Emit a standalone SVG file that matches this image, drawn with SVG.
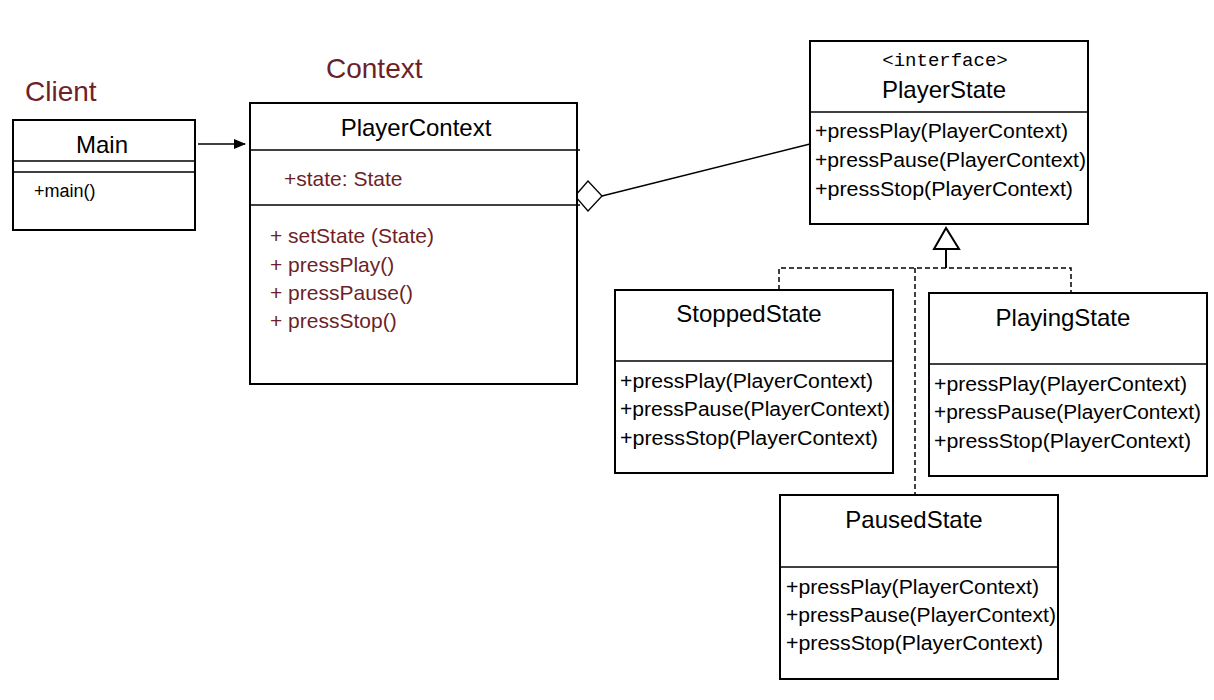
<svg xmlns="http://www.w3.org/2000/svg" width="1214" height="700" viewBox="0 0 1214 700">
<style>
.box{fill:#fff;stroke:#000;stroke-width:2}
.div{stroke:#000;stroke-width:1.3}
.t{font-family:"Liberation Sans",Arial,sans-serif;fill:#000}
.title{font-size:24px;text-anchor:middle}
.m{font-size:20px}
.r{font-size:21px;fill:#6e1f27}
.lbl{font-family:"Liberation Sans",Arial,sans-serif;font-size:28px;fill:#6e1f27}
.dash{fill:none;stroke:#000;stroke-width:1.5;stroke-dasharray:5,3}
</style>
<defs>
<marker id="arr" markerWidth="12" markerHeight="10" refX="11" refY="5" orient="auto" markerUnits="userSpaceOnUse">
<path d="M0,0 L12,5 L0,10 Z" fill="#000"/>
</marker>
</defs>
<rect width="1214" height="700" fill="#fff"/>
<text class="lbl" x="25" y="101">Client</text>
<text class="lbl" x="326" y="78">Context</text>

<g id="connectors">
<line x1="198" y1="144" x2="245" y2="144" stroke="#000" stroke-width="1.3" marker-end="url(#arr)"/>
<line x1="602" y1="196" x2="810" y2="144" stroke="#000" stroke-width="1.3"/>
<polygon points="575,196 588,181 602,196 588,211" fill="#fff" stroke="#000" stroke-width="1.3"/>
<line x1="946" y1="249" x2="946" y2="268" stroke="#000" stroke-width="2"/>
<polygon points="946,228 934,249 959,249" fill="#fff" stroke="#000" stroke-width="2"/>
<polyline class="dash" points="779,290 779,268 1071,268 1071,293"/>
<line class="dash" x1="915" y1="268" x2="915" y2="495" stroke-width="1.2"/>
</g>

<g id="Main">
<rect class="box" x="13" y="120" width="182" height="110"/>
<line class="div" x1="13" y1="161" x2="195" y2="161"/>
<line class="div" x1="13" y1="172" x2="195" y2="172"/>
<text class="t title" x="102" y="153" font-size="25">Main</text>
<text class="t" x="34" y="197" font-size="18">+main()</text>
</g>

<g id="PlayerContext">
<rect class="box" x="250" y="103" width="327" height="281"/>
<line class="div" x1="250" y1="150" x2="580" y2="150"/>
<line class="div" x1="250" y1="205" x2="580" y2="205"/>
<text class="t title" x="416" y="136">PlayerContext</text>
<text class="t r" x="284" y="186">+state: State</text>
<text class="t r" x="270" y="243">+ setState (State)</text>
<text class="t r" x="270" y="272">+ pressPlay()</text>
<text class="t r" x="270" y="300">+ pressPause()</text>
<text class="t r" x="270" y="328">+ pressStop()</text>
</g>

<g id="PlayerState">
<rect class="box" x="810" y="41" width="278" height="183"/>
<line class="div" x1="810" y1="112" x2="1088" y2="112"/>
<text x="945" y="66" font-family="'Liberation Mono','Courier New',monospace" font-size="19" text-anchor="middle" fill="#000">&lt;interface&gt;</text>
<text class="t title" x="944" y="98">PlayerState</text>
<text class="t m" x="815" y="138" textLength="253" lengthAdjust="spacingAndGlyphs">+pressPlay(PlayerContext)</text>
<text class="t m" x="815" y="167" textLength="271" lengthAdjust="spacingAndGlyphs">+pressPause(PlayerContext)</text>
<text class="t m" x="815" y="196" textLength="258" lengthAdjust="spacingAndGlyphs">+pressStop(PlayerContext)</text>
</g>

<g id="StoppedState">
<rect class="box" x="615" y="290" width="278" height="183"/>
<line class="div" x1="615" y1="361" x2="893" y2="361"/>
<text class="t title" x="749" y="322">StoppedState</text>
<text class="t m" x="620" y="388" textLength="253" lengthAdjust="spacingAndGlyphs">+pressPlay(PlayerContext)</text>
<text class="t m" x="620" y="416" textLength="270" lengthAdjust="spacingAndGlyphs">+pressPause(PlayerContext)</text>
<text class="t m" x="620" y="445" textLength="258" lengthAdjust="spacingAndGlyphs">+pressStop(PlayerContext)</text>
</g>

<g id="PlayingState">
<rect class="box" x="929" y="293" width="278" height="183"/>
<line class="div" x1="929" y1="364" x2="1207" y2="364"/>
<text class="t title" x="1063" y="326">PlayingState</text>
<text class="t m" x="934" y="391" textLength="253" lengthAdjust="spacingAndGlyphs">+pressPlay(PlayerContext)</text>
<text class="t m" x="934" y="419" textLength="267" lengthAdjust="spacingAndGlyphs">+pressPause(PlayerContext)</text>
<text class="t m" x="934" y="448" textLength="257" lengthAdjust="spacingAndGlyphs">+pressStop(PlayerContext)</text>
</g>

<g id="PausedState">
<rect class="box" x="780" y="495" width="278" height="184"/>
<line class="div" x1="780" y1="567" x2="1058" y2="567"/>
<text class="t title" x="914" y="528">PausedState</text>
<text class="t m" x="786" y="594" textLength="253" lengthAdjust="spacingAndGlyphs">+pressPlay(PlayerContext)</text>
<text class="t m" x="786" y="622" textLength="270" lengthAdjust="spacingAndGlyphs">+pressPause(PlayerContext)</text>
<text class="t m" x="786" y="650" textLength="257" lengthAdjust="spacingAndGlyphs">+pressStop(PlayerContext)</text>
</g>
</svg>
